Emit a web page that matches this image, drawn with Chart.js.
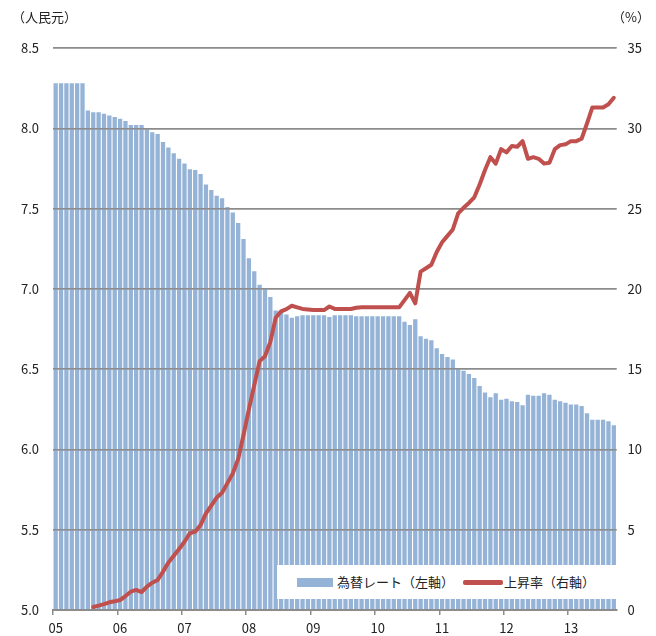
<!DOCTYPE html>
<html lang="ja">
<head>
<meta charset="utf-8">
<script src="https://cdn.jsdelivr.net/npm/chart.js@4/dist/chart.umd.min.js"></script>
<style>
  body { margin: 0; background: #fff; font-family: "Noto Sans CJK JP", "Noto Sans", sans-serif; }
  #wrap { position: relative; width: 656px; height: 636px; }
  .unit { position: absolute; top: 7px; font-size: 13px; color: #222; }
  #legend { position: absolute; left: 277px; top: 565px; width: 340px; height: 34px; background: #fff;
            font-size: 13px; color: #222; }
  #legend .item { position: absolute; top: 0; height: 34px; line-height: 34px; }
  #legend .swatch { position: absolute; }
</style>
</head>
<body>
<div id="wrap">
  <canvas id="chart" width="656" height="636"></canvas>
  <div class="unit" style="left:12px;">（人民元）</div>
  <div class="unit" style="left:612px;">（%）</div>
  <div id="legend">
    <div class="swatch" style="left:20px; top:13px; width:36px; height:9px; background:#95b3d7;"></div>
    <div class="item" style="left:60px;">為替レート（左軸）</div>
    <div class="swatch" style="left:186px; top:15px; width:40px; height:5px; background:#c0504d; border-radius:2px;"></div>
    <div class="item" style="left:227px;">上昇率（右軸）</div>
  </div>
</div>
<script>
// Tick labels for the x axis (one per year, January)
const yearLabels = ['05', '06', '07', '08', '09', '10', '11', '12', '13'];

// Months Jan 2005 - Sep 2013
const months = [];
for (let y = 2005; y <= 2013; y++) {
    for (let m = 1; m <= 12; m++) {
        if (y === 2013 && m > 9) break;
        months.push(y + '-' + String(m).padStart(2, '0'));
    }
}

// 為替レート (CNY per USD), left axis
const rateValues = [
    8.28, 8.28, 8.28, 8.28, 8.28, 8.28, 8.11, 8.10, 8.10, 8.09, 8.08, 8.07,
    8.06, 8.045, 8.02, 8.02, 8.02, 8.00, 7.975, 7.965, 7.915, 7.88, 7.845, 7.81,
    7.78, 7.745, 7.74, 7.715, 7.65, 7.615, 7.58, 7.565, 7.51, 7.475, 7.41, 7.31,
    7.19, 7.11, 7.025, 7.00, 6.95, 6.865, 6.855, 6.84, 6.82, 6.83, 6.835, 6.835,
    6.835, 6.835, 6.835, 6.825, 6.835, 6.835, 6.835, 6.835, 6.83, 6.83, 6.83, 6.83,
    6.83, 6.83, 6.83, 6.83, 6.83, 6.795, 6.775, 6.81, 6.705, 6.69, 6.68, 6.63,
    6.595, 6.575, 6.56, 6.505, 6.49, 6.47, 6.445, 6.395, 6.355, 6.325, 6.35, 6.31,
    6.315, 6.30, 6.295, 6.275, 6.34, 6.335, 6.335, 6.35, 6.34, 6.31, 6.30, 6.29,
    6.28, 6.28, 6.27, 6.225, 6.185, 6.185, 6.185, 6.175, 6.15
];

// 上昇率 (%), right axis
const riseValues = [
    null, null, null, null, null, null, null, 0.19, 0.27, 0.37, 0.48, 0.54,
    0.62, 0.87, 1.14, 1.25, 1.12, 1.45, 1.70, 1.87, 2.39, 2.95, 3.38, 3.80,
    4.25, 4.78, 4.88, 5.29, 6.02, 6.5, 7.0, 7.3, 7.9, 8.5, 9.4, 10.9,
    12.5, 14.0, 15.5, 15.8, 16.7, 18.2, 18.6, 18.74, 18.95, 18.85, 18.75, 18.72,
    18.68, 18.68, 18.68, 18.9, 18.75, 18.75, 18.75, 18.75, 18.82, 18.85, 18.85, 18.85,
    18.85, 18.85, 18.85, 18.85, 18.85, 19.3, 19.75, 19.1, 21.07, 21.28, 21.5, 22.3,
    22.9, 23.3, 23.7, 24.7, 25.05, 25.35, 25.7, 26.5, 27.4, 28.2, 27.8, 28.7,
    28.5, 28.9, 28.85, 29.2, 28.1, 28.2, 28.1, 27.8, 27.85, 28.7, 28.95, 29.0,
    29.2, 29.2, 29.35, 30.3, 31.3, 31.3, 31.3, 31.5, 31.9
];

const gridColor = '#8c8c8c';
const tickFont = { family: '"Noto Sans CJK JP", "Noto Sans", sans-serif', size: 13 };

// draw the horizontal grid again on top of the bars (but under the line)
const gridOverBars = {
    id: 'gridOverBars',
    afterDatasetDraw(chart, args) {
        if (args.index === 1) {
            chart.scales.y.drawGrid(chart.chartArea);
        }
    }
};

const ctx = document.getElementById('chart').getContext('2d');
const chart = new Chart(ctx, {
    type: 'bar',
    data: {
        labels: months,
        datasets: [{
            type: 'line',
            label: '上昇率（右軸）',
            data: riseValues,
            yAxisID: 'y2',
            borderColor: '#c0504d',
            borderWidth: 4,
            pointRadius: 0,
            tension: 0,
            borderCapStyle: 'round',
            borderJoinStyle: 'round',
            order: 0
        }, {
            label: '為替レート（左軸）',
            data: rateValues,
            yAxisID: 'y',
            backgroundColor: '#95b3d7',
            barPercentage: 0.8,
            categoryPercentage: 1.0,
            order: 1
        }]
    },
    options: {
        responsive: false,
        animation: false,
        layout: { padding: { top: 48, left: 0, right: 0, bottom: 0 } },
        plugins: {
            legend: { display: false },
            tooltip: { enabled: false }
        },
        scales: {
            x: {
                ticks: {
                    autoSkip: false,
                    maxRotation: 0,
                    padding: 5,
                    color: '#222',
                    font: tickFont,
                    callback: (val, i) => (i % 12 === 0 ? yearLabels[i / 12] : '')
                },
                grid: {
                    drawOnChartArea: false,
                    drawTicks: true,
                    tickLength: 5,
                    lineWidth: 1.5,
                    color: (c) => (c.index % 12 === 0 ? gridColor : 'rgba(0,0,0,0)')
                },
                border: { display: true, color: gridColor, width: 2 },
                afterFit: (scale) => { scale.height = 26; }
            },
            y: {
                position: 'left',
                min: 5,
                max: 8.5,
                ticks: {
                    stepSize: 0.5,
                    padding: 14,
                    color: '#222',
                    font: tickFont,
                    callback: (v) => v.toFixed(1)
                },
                grid: { drawTicks: false, color: gridColor, lineWidth: 1.4 },
                border: { display: false },
                afterFit: (scale) => { scale.width = 53; }
            },
            y2: {
                position: 'right',
                min: 0,
                max: 35,
                ticks: {
                    stepSize: 5,
                    padding: 11,
                    color: '#222',
                    font: tickFont
                },
                grid: { display: false, drawTicks: false },
                border: { display: false },
                afterFit: (scale) => { scale.width = 39.5; }
            }
        }
    },
    plugins: [gridOverBars]
});
</script>
</body>
</html>
